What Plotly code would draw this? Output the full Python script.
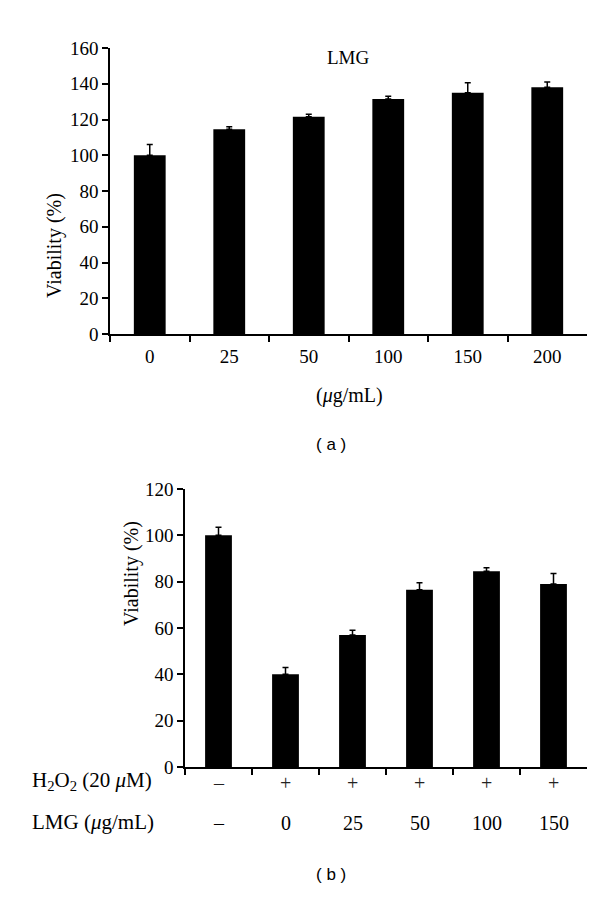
import plotly.graph_objects as go

# ---------- Data
# panel (a): LMG alone
conc_a = ["0", "25", "50", "100", "150", "200"]
viab_a = [100, 114.5, 121.5, 131.5, 135, 138]
err_a = [6, 1.5, 1.5, 1.5, 5.5, 3]

# panel (b): H2O2 + LMG
h2o2_b = ["–", "+", "+", "+", "+", "+"]
lmg_b = ["–", "0", "25", "50", "100", "150"]
viab_b = [100, 40, 57, 76.5, 84.5, 79]
err_b = [3.5, 3, 2, 3, 1.5, 4.5]

cats_b = [f"c{i}" for i in range(len(lmg_b))]

SERIF = "Liberation Serif"
SANS = "Liberation Sans"
W, H = 600, 904


def py(px):
    # pixel row -> paper coordinate
    return 1 - px / H


fig = go.Figure()

fig.add_trace(go.Bar(
    x=conc_a, y=viab_a, width=0.4,
    marker=dict(color="black", line=dict(width=0)),
    error_y=dict(type="data", symmetric=False, array=err_a,
                 arrayminus=[0] * len(err_a), color="black",
                 thickness=1.5, width=3),
    xaxis="x", yaxis="y", showlegend=False,
))

fig.add_trace(go.Bar(
    x=cats_b, y=viab_b, width=0.4,
    marker=dict(color="black", line=dict(width=0)),
    error_y=dict(type="data", symmetric=False, array=err_b,
                 arrayminus=[0] * len(err_b), color="black",
                 thickness=1.5, width=3),
    xaxis="x2", yaxis="y2", showlegend=False,
))

axis_common = dict(
    showline=True, linecolor="black", linewidth=1.5,
    ticks="outside", ticklen=6, tickwidth=1.5, tickcolor="black",
    showgrid=False, zeroline=False, automargin=False,
    tickfont=dict(family=SERIF, size=19, color="black"),
)

fig.update_layout(
    template="none",
    width=W, height=H,
    margin=dict(l=0, r=0, t=0, b=0),
    paper_bgcolor="white", plot_bgcolor="white",
    xaxis=dict(axis_common, domain=[102 / W, 579 / W], anchor="y",
               type="category", tickson="boundaries", ticklabelstandoff=4),
    yaxis=dict(axis_common, domain=[py(326), py(40)], anchor="x",
               range=[0, 160], tickvals=list(range(0, 161, 20))),
    xaxis2=dict(axis_common, domain=[177 / W, 579 / W], anchor="y2",
                type="category", tickson="boundaries", showticklabels=False),
    yaxis2=dict(axis_common, domain=[py(759), py(481)], anchor="x2",
                range=[0, 120], tickvals=list(range(0, 121, 20))),
)

ann = []
# panel (a) texts
ann.append(dict(text="LMG", x=340 / W, y=py(37), xref="paper", yref="paper",
                showarrow=False, font=dict(family=SERIF, size=19, color="black")))
ann.append(dict(text="Viability (%)", x=33 / W, y=py(183), xref="paper", yref="paper",
                textangle=-90, showarrow=False,
                font=dict(family=SERIF, size=20, color="black")))
ann.append(dict(text="(<i>μ</i>g/mL)", x=342 / W, y=py(387), xref="paper", yref="paper",
                showarrow=False, font=dict(family=SERIF, size=20, color="black")))
ann.append(dict(text="( a )", x=323 / W, y=py(436), xref="paper", yref="paper",
                showarrow=False, font=dict(family=SANS, size=17, color="black")))

# panel (b) texts
ann.append(dict(text="Viability (%)", x=110 / W, y=py(620), xref="paper", yref="paper",
                textangle=-90, showarrow=False,
                font=dict(family=SERIF, size=20, color="black")))
ann.append(dict(text="H<sub>2</sub>O<sub>2</sub> (20 <i>μ</i>M)", x=22 / W, y=py(788),
                xref="paper", yref="paper", xanchor="left", showarrow=False,
                font=dict(family=SERIF, size=21, color="black")))
ann.append(dict(text="LMG (<i>μ</i>g/mL)", x=22 / W, y=py(828),
                xref="paper", yref="paper", xanchor="left", showarrow=False,
                font=dict(family=SERIF, size=21, color="black")))
for c, h, l in zip(cats_b, h2o2_b, lmg_b):
    ann.append(dict(text=h, x=c, y=py(788), xref="x2", yref="paper", showarrow=False,
                    font=dict(family=SERIF, size=20, color="#222222")))
    ann.append(dict(text=l, x=c, y=py(828), xref="x2", yref="paper", showarrow=False,
                    font=dict(family=SERIF, size=20, color="black")))
ann.append(dict(text="( b )", x=323 / W, y=py(878), xref="paper", yref="paper",
                showarrow=False, font=dict(family=SANS, size=17, color="black")))

fig.update_layout(annotations=ann)

fig.write_html("out.html")
